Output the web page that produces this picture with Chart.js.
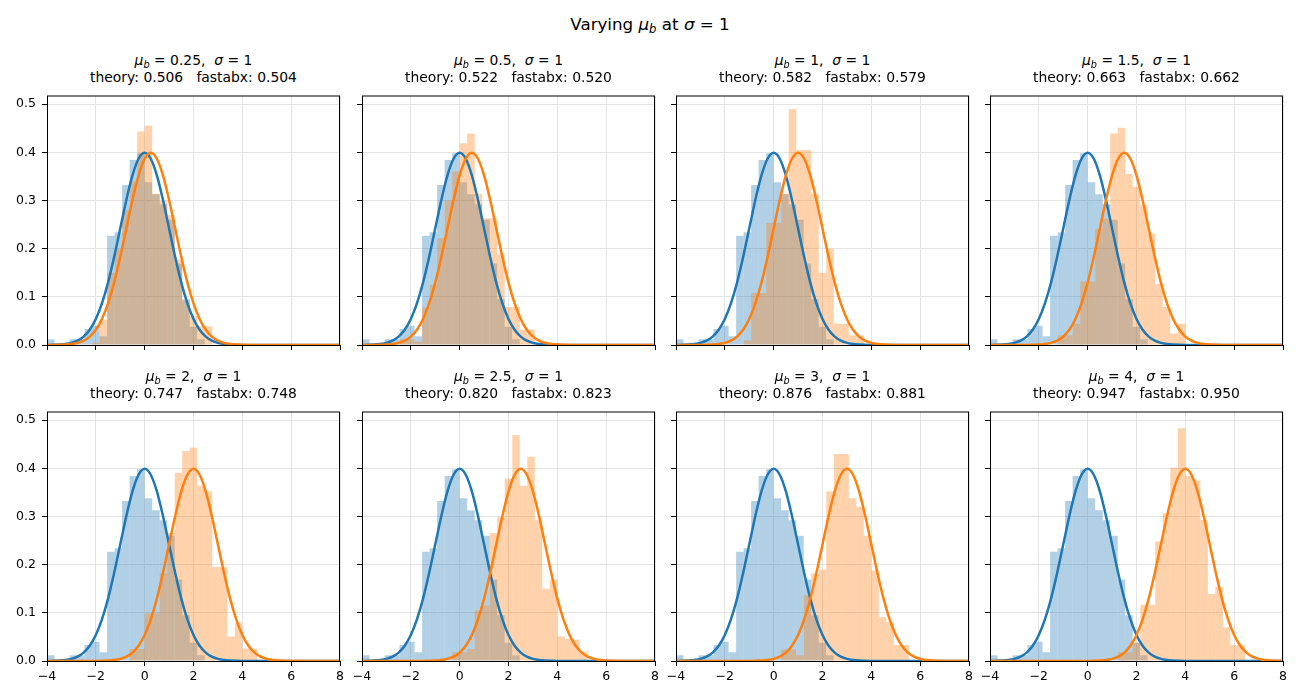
<!DOCTYPE html>
<html>
<head>
<meta charset="utf-8">
<script src="https://cdn.jsdelivr.net/npm/chart.js@4.4.0/dist/chart.umd.min.js"></script>
<style>
  body { margin: 0; background: #fff; }
  #fig { position: relative; width: 1300px; height: 700px; overflow: hidden;
         font-family: 'DejaVu Sans', sans-serif; color: #000; }
  canvas { position: absolute; }
  .txt { position: absolute; text-align: center; white-space: pre; }
  .sub { font-size: 0.7em; font-style: italic; position: relative; top: 0.28em; }
</style>
</head>
<body>
<div id="fig">
  <div class="txt" id="sup" style="left:0; width:1300px; top:14px; font-size:16.7px; line-height:20px;">Varying <i>μ</i><span class="sub">b</span> at <i>σ</i> = 1</div>
</div>
<script>
// shared histogram bins (39 bins from -4 to 8)
const binEdges = [-4.000, -3.692, -3.385, -3.077, -2.769, -2.462, -2.154, -1.846, -1.538, -1.231,
  -0.923, -0.615, -0.308, 0.000, 0.308, 0.615, 0.923, 1.231, 1.538, 1.846,
  2.154, 2.462, 2.769, 3.077, 3.385, 3.692, 4.000, 4.308, 4.615, 4.923,
  5.231, 5.538, 5.846, 6.154, 6.462, 6.769, 7.077, 7.385, 7.692, 8.000]

// panel parameters
const means = [0.25, 0.5, 1, 1.5, 2, 2.5, 3, 4]
const theory = [0.506, 0.522, 0.582, 0.663, 0.747, 0.820, 0.876, 0.947]
const fastabx = [0.504, 0.520, 0.579, 0.662, 0.748, 0.823, 0.881, 0.950]

// density of sample a (same in every panel)
const histA = [0.012, 0, 0.004, 0.012, 0.012, 0.033, 0.040, 0.018, 0.227, 0.234, 0.332, 0.384, 0.398,
  0.338, 0.313, 0.292, 0.260, 0.169, 0.095, 0.038, 0.012, 0, 0, 0, 0, 0,
  0, 0, 0, 0, 0, 0, 0, 0, 0, 0, 0, 0, 0]

// density of sample b, one per panel
const histB025 = [0, 0, 0, 0.004, 0, 0, 0.005, 0.052, 0.150, 0.200, 0.280, 0.340, 0.443,
  0.455, 0.314, 0.300, 0.270, 0.177, 0.092, 0.060, 0.039, 0.039, 0, 0, 0, 0,
  0, 0, 0, 0, 0, 0, 0, 0, 0, 0, 0, 0, 0]
const histB05 = [0, 0, 0, 0, 0, 0.012, 0.012, 0.007, 0.078, 0.125, 0.222, 0.300, 0.360,
  0.419, 0.439, 0.314, 0.263, 0.263, 0.188, 0.079, 0.079, 0.032, 0.032, 0, 0, 0,
  0, 0, 0, 0, 0, 0, 0, 0, 0, 0, 0, 0, 0]
const histB1 = [0, 0, 0, 0, 0, 0, 0, 0, 0, 0.010, 0.108, 0.108, 0.254,
  0.254, 0.314, 0.490, 0.405, 0.405, 0.314, 0.150, 0.200, 0.044, 0.044, 0.020, 0.020, 0,
  0, 0, 0, 0, 0, 0, 0, 0, 0, 0, 0, 0, 0]
const histB15 = [0, 0, 0, 0, 0, 0, 0, 0, 0, 0.020, 0.020, 0.044, 0.132,
  0.132, 0.241, 0.262, 0.439, 0.451, 0.355, 0.328, 0.290, 0.231, 0.126, 0.079, 0.024, 0.044,
  0, 0, 0, 0, 0, 0, 0, 0, 0, 0, 0, 0, 0]
const histB2 = [0, 0, 0, 0, 0, 0, 0, 0, 0, 0, 0, 0.025, 0.025,
  0.099, 0.099, 0.182, 0.266, 0.391, 0.436, 0.443, 0.364, 0.352, 0.195, 0.195, 0.051, 0.079,
  0.026, 0.026, 0, 0, 0, 0, 0, 0, 0, 0, 0, 0, 0]
const histB25 = [0, 0, 0, 0, 0, 0, 0, 0, 0, 0, 0, 0, 0.018,
  0.018, 0.025, 0.105, 0.115, 0.266, 0.299, 0.379, 0.469, 0.364, 0.424, 0.292, 0.150, 0.169,
  0.051, 0.046, 0.044, 0.020, 0, 0, 0, 0, 0, 0, 0, 0, 0]
const histB3 = [0, 0, 0, 0, 0, 0, 0, 0, 0, 0, 0, 0, 0,
  0, 0.024, 0.024, 0.012, 0.137, 0.182, 0.190, 0.352, 0.430, 0.430, 0.338, 0.320, 0.260,
  0.188, 0.091, 0.081, 0.033, 0.033, 0, 0, 0, 0, 0, 0, 0, 0]
const histB4 = [0, 0, 0, 0, 0, 0, 0, 0, 0, 0, 0, 0, 0,
  0, 0, 0, 0, 0.018, 0.018, 0.038, 0.117, 0.117, 0.248, 0.307, 0.401, 0.483,
  0.384, 0.375, 0.293, 0.139, 0.154, 0.070, 0.033, 0.033, 0, 0, 0, 0, 0]
const histB = [histB025, histB05, histB1, histB15, histB2, histB25, histB3, histB4]

// unit normal density, sampled every 0.25 from -4 to 4
const pdfT = [-4, -3.75, -3.5, -3.25, -3, -2.75, -2.5, -2.25, -2, -1.75, -1.5, -1.25, -1, -0.75, -0.5, -0.25,
  0, 0.25, 0.5, 0.75, 1, 1.25, 1.5, 1.75, 2, 2.25, 2.5, 2.75, 3, 3.25, 3.5, 3.75, 4]
const pdfY = [0.000134, 0.000353, 0.000873, 0.002029, 0.004432, 0.009094, 0.017528, 0.031740,
  0.053991, 0.086277, 0.129518, 0.182649, 0.241971, 0.301137, 0.352065, 0.386668,
  0.398942, 0.386668, 0.352065, 0.301137, 0.241971, 0.182649, 0.129518, 0.086277,
  0.053991, 0.031740, 0.017528, 0.009094, 0.004432, 0.002029, 0.000873, 0.000353, 0.000134]

const xTicks = [-4, -2, 0, 2, 4, 6, 8]

// layout
const colLeft = [47, 362, 676, 990]
const rowTop = [92, 408]
const plotW = 293
const plotH = 253
const padL = 45
const padT = 10
const padR = 12
const padB = 28

Chart.defaults.font.family = "'DejaVu Sans', sans-serif"
Chart.defaults.color = '#000'

const frame = {
  id: 'frame',
  afterDatasetsDraw (chart) {
    const { ctx, chartArea: a } = chart
    ctx.save()
    ctx.strokeStyle = '#000'
    ctx.lineWidth = 1
    ctx.strokeRect(a.left + 0.5, a.top + 0.5, a.right - a.left - 1, a.bottom - a.top)
    ctx.restore()
  }
}

function curve (mu) {
  const pts = []
  if (mu > 0) pts.push({ x: -4, y: 0 })
  pdfT.forEach((t, i) => pts.push({ x: t + mu, y: pdfY[i] }))
  pts.push({ x: 8, y: 0 })
  return pts
}

function bars (h) {
  return h.map((v, k) => ({ x: (binEdges[k] + binEdges[k + 1]) / 2, y: v }))
}

function fmtX (v) {
  return v < 0 ? '\u2212' + Math.abs(v) : String(v)
}

const fig = document.getElementById('fig')

means.forEach((mu, i) => {
  const col = i % 4
  const row = Math.floor(i / 4)
  const L = colLeft[col]
  const T = rowTop[row]

  // titles
  const cx = L + plotW / 2
  const t1 = document.createElement('div')
  t1.className = 'txt'
  t1.style.cssText = `left:${cx - 150}px; width:300px; top:${T - 40}px; font-size:13.9px; line-height:16px;`
  t1.innerHTML = `<i>μ</i><span class="sub">b</span> = ${mu},  <i>σ</i> = 1`
  fig.appendChild(t1)
  const t2 = document.createElement('div')
  t2.className = 'txt'
  t2.style.cssText = `left:${cx - 150}px; width:300px; top:${T - 23}px; font-size:13.9px; line-height:16px;`
  t2.textContent = `theory: ${theory[i].toFixed(3)}   fastabx: ${fastabx[i].toFixed(3)}`
  fig.appendChild(t2)

  const cv = document.createElement('canvas')
  cv.width = plotW + padL + padR
  cv.height = plotH + padT + padB
  cv.style.left = (L - padL) + 'px'
  cv.style.top = (T - padT) + 'px'
  fig.appendChild(cv)

  const histStyle = { borderWidth: 0, inflateAmount: 0, grouped: false, barPercentage: 1, categoryPercentage: 1 }

  new Chart(cv, {
    type: 'bar',
    data: {
      datasets: [
        { type: 'line', data: curve(mu), borderColor: '#ff7f0e', borderWidth: 2.5, pointRadius: 0, fill: false, cubicInterpolationMode: 'monotone', clip: 0, order: 0 },
        { type: 'line', data: curve(0), borderColor: '#1f77b4', borderWidth: 2.5, pointRadius: 0, fill: false, cubicInterpolationMode: 'monotone', clip: 0, order: 1 },
        { data: bars(histB[i]), backgroundColor: 'rgba(255,127,14,0.35)', order: 2, ...histStyle },
        { data: bars(histA), backgroundColor: 'rgba(31,119,180,0.35)', order: 3, ...histStyle }
      ]
    },
    options: {
      responsive: false,
      animation: false,
      devicePixelRatio: 1,
      layout: { padding: { top: padT, right: padR, left: 0, bottom: 0 } },
      plugins: { legend: { display: false }, tooltip: { enabled: false } },
      scales: {
        x: {
          type: 'linear',
          min: -4,
          max: 8,
          offset: false,
          afterBuildTicks: s => { s.ticks = xTicks.map(v => ({ value: v })) },
          afterFit: s => { s.height = padB },
          border: { display: false },
          grid: { offset: false, color: '#e4e4e4', tickColor: '#000', tickLength: 5, lineWidth: 1 },
          ticks: { padding: 3, maxRotation: 0, autoSkip: false, font: { size: 12.5 }, callback: v => row === 1 ? fmtX(v) : '' }
        },
        y: {
          min: 0,
          max: 0.518,
          afterFit: s => { s.width = padL },
          border: { display: false },
          grid: { offset: false, color: '#e4e4e4', tickColor: '#000', tickLength: 5, lineWidth: 1 },
          ticks: { stepSize: 0.1, includeBounds: false, padding: 6, font: { size: 12.5 }, callback: v => col === 0 ? v.toFixed(1) : '' }
        }
      }
    },
    plugins: [frame]
  })
})
</script>
</body>
</html>
